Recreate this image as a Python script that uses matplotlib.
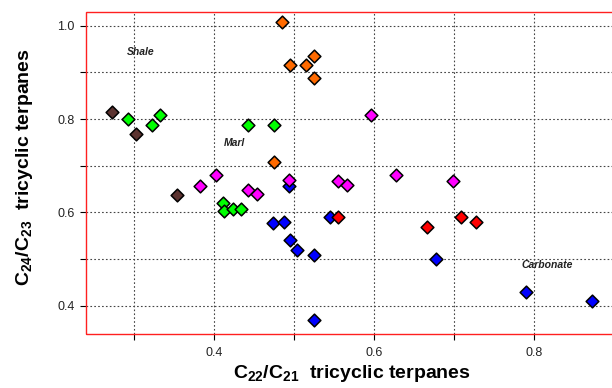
import matplotlib
matplotlib.use("Agg")
import matplotlib.pyplot as plt
from matplotlib.patches import Rectangle

plt.rcParams["font.family"] = ["Liberation Sans", "DejaVu Sans"]
plt.rcParams["mathtext.fontset"] = "custom"
plt.rcParams["mathtext.rm"] = "Liberation Sans"
plt.rcParams["mathtext.bf"] = "Liberation Sans:bold"

# ── Data ────────────────────────────────────────────────────────────────────
shale_brown_x = [0.272, 0.302, 0.354]
shale_brown_y = [0.815, 0.767, 0.637]

green_x = [0.292, 0.322, 0.332, 0.443, 0.475, 0.411, 0.413, 0.424, 0.434]
green_y = [0.800, 0.787, 0.809, 0.787, 0.787, 0.620, 0.602, 0.607, 0.607]

orange_x = [0.485, 0.495, 0.515, 0.525, 0.525, 0.475]
orange_y = [1.008, 0.916, 0.916, 0.935, 0.889, 0.708]

blue_x = [0.494, 0.474, 0.487, 0.495, 0.504, 0.525, 0.525, 0.545,
          0.678, 0.790, 0.872]
blue_y = [0.657, 0.578, 0.579, 0.541, 0.519, 0.509, 0.369, 0.589,
          0.499, 0.429, 0.409]

magenta_x = [0.403, 0.383, 0.443, 0.454, 0.494, 0.555, 0.566, 0.596,
             0.628, 0.699]
magenta_y = [0.679, 0.657, 0.647, 0.639, 0.670, 0.668, 0.659, 0.809,
             0.679, 0.668]

red_x = [0.555, 0.666, 0.709, 0.728]
red_y = [0.589, 0.568, 0.590, 0.579]

groups = [
    (shale_brown_x, shale_brown_y, "#5c3330"),
    (green_x, green_y, "#00ff00"),
    (orange_x, orange_y, "#ff6a00"),
    (blue_x, blue_y, "#0000ff"),
    (magenta_x, magenta_y, "#ff00ff"),
    (red_x, red_y, "#ff0000"),
]

labels = [("Shale", 0.308, 0.944), ("Marl", 0.425, 0.748),
          ("Carbonate", 0.816, 0.487)]

# ── Figure ──────────────────────────────────────────────────────────────────
fig = plt.figure(figsize=(6.12, 3.88), dpi=100)
# right edge of the frame runs just past the figure, as in the original
ax = fig.add_axes([0.1405, 0.1392, 0.8693, 0.8286])

for xs, ys, col in groups:
    ax.scatter(xs, ys, s=42, marker="D", c=col, edgecolors="black",
               linewidths=1.1, zorder=3)

for txt, x, y in labels:
    ax.text(x, y, txt, fontsize=7.5, fontweight="bold", style="italic",
            color="#222222", ha="center", va="center")

ax.set_xlim(0.24, 0.905)
ax.set_ylim(0.339, 1.0285)
ax.set_xticks([0.4, 0.6, 0.8])
ax.set_xticks([0.3, 0.5, 0.7, 0.9], minor=True)
ax.set_yticks([0.4, 0.6, 0.8, 1.0])
ax.set_yticks([0.5, 0.7, 0.9], minor=True)
ax.tick_params(which="both", direction="out", length=4.5, width=0.8,
               labelsize=9, colors="black", labelcolor="#222222")
ax.tick_params(axis="x", pad=5)

ax.grid(which="both", linestyle=(0, (1.5, 2)), color="#444444", lw=0.8)
ax.set_axisbelow(True)

for sp in ax.spines.values():
    sp.set_visible(False)
ax.add_patch(Rectangle((0, 0), 1, 1, transform=ax.transAxes, fill=False,
                       edgecolor="#ff2020", lw=1.0, clip_on=False, zorder=4))

ax.set_xlabel(r"$\mathbf{C_{22}/C_{21}}$  tricyclic terpanes",
              fontsize=14, fontweight="bold", labelpad=3)
ax.set_ylabel(r"$\mathbf{C_{24}/C_{23}}$  tricyclic terpanes",
              fontsize=14, fontweight="bold")
ax.yaxis.set_label_coords(-0.095, 0.52)

fig.savefig("out.png", dpi=100)
